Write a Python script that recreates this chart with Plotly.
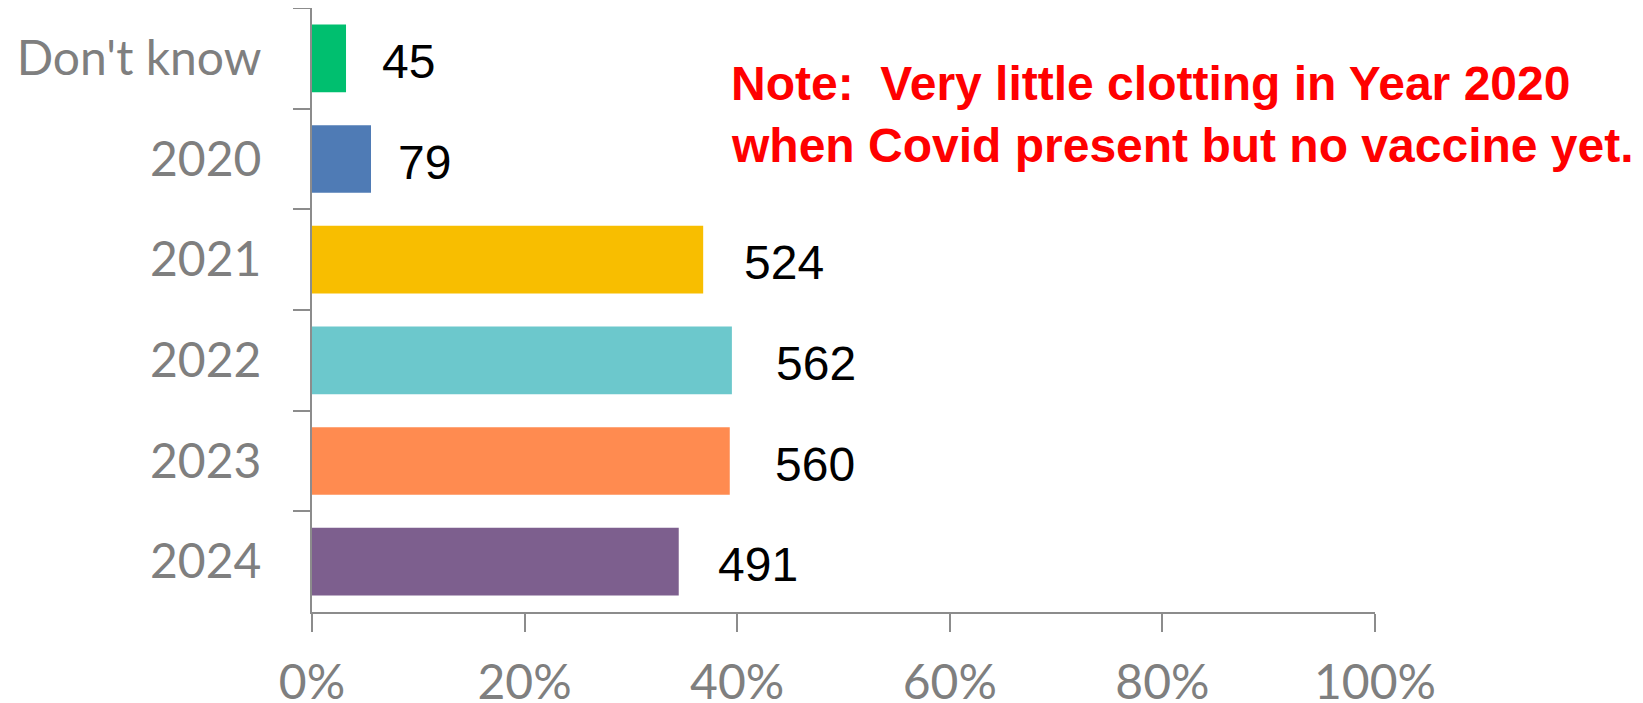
import plotly.graph_objects as go

categories = ["Don't know", "2020", "2021", "2022", "2023", "2024"]
percent_values = [3.2, 5.55, 36.8, 39.5, 39.3, 34.5]
count_labels = ["45", "79", "524", "562", "560", "491"]
bar_colors = ["#00BF6F", "#4F7BB5", "#F8BE00", "#6CC8CC", "#FF8B50", "#7D5F8E"]
x_tick_values = [0, 20, 40, 60, 80, 100]
x_tick_labels = ["0%", "20%", "40%", "60%", "80%", "100%"]
note_lines = ["Note:  Very little clotting in Year 2020",
              "when Covid present but no vaccine yet."]

# style: per-label horizontal nudge (px) to mimic the original label placement
label_nudge = [0, -9, 5, 8, 9, 3]

axis_gray = "#8C8C8C"
label_gray = "#7F7F7F"

OFF = 8  # page body margin
W, H = 1643 - OFF, 703 - OFF
ML, MT = 312 - OFF, 8 - OFF
MR = W - (1375 - OFF)
MB = H - (612 - OFF)
PW, PH = W - ML - MR, H - MT - MB

fig = go.Figure()
fig.add_trace(go.Bar(
    x=percent_values,
    y=categories,
    orientation="h",
    marker=dict(color=bar_colors, line=dict(width=0)),
    hoverinfo="skip",
    showlegend=False,
))

annotations = []
for idx, (val, lab) in enumerate(zip(percent_values, count_labels)):
    annotations.append(dict(
        x=val, y=idx, xref="x", yref="y", text=lab, showarrow=False,
        xanchor="left", yanchor="middle",
        xshift=34 + label_nudge[idx] * 1.05, yshift=-3,
        font=dict(family="Liberation Sans, Arial", size=48, color="#000000"),
    ))

note_x_px = 729
note_y_px = [84, 146]
for line, ypx in zip(note_lines, note_y_px):
    annotations.append(dict(
        x=(note_x_px - OFF - ML) / PW, y=(H - MB - (ypx - OFF)) / PH,
        xref="paper", yref="paper",
        text="<b>" + line + "</b>", showarrow=False,
        xanchor="left", yanchor="middle",
        font=dict(family="Liberation Sans, Arial", size=48, color="#FF0000"),
    ))

fig.update_layout(
    width=W, height=H,
    margin=dict(l=ML, r=MR, t=MT, b=MB, pad=0, autoexpand=False),
    paper_bgcolor="white", plot_bgcolor="white",
    bargap=0.327,
    annotations=annotations,
    xaxis=dict(
        range=[0, 100], tickmode="array",
        tickvals=x_tick_values, ticktext=x_tick_labels,
        showgrid=False, zeroline=False,
        showline=True, linecolor=axis_gray, linewidth=2,
        ticks="outside", ticklen=18, tickwidth=1.5, tickcolor=axis_gray,
        ticklabelstandoff=9, automargin=False,
        tickfont=dict(family="Lato", size=48, color=label_gray),
        fixedrange=True,
    ),
    yaxis=dict(
        type="category",
        categoryorder="array", categoryarray=categories,
        range=[len(categories) - 0.5, -0.5],
        showgrid=False, zeroline=False,
        showline=True, linecolor=axis_gray, linewidth=2,
        ticks="outside", ticklen=17, tickwidth=2, tickcolor=axis_gray,
        tickson="boundaries",
        ticklabelstandoff=39, automargin=False,
        tickfont=dict(family="Lato", size=48, color=label_gray),
        fixedrange=True,
    ),
)

fig.write_html("out.html")
